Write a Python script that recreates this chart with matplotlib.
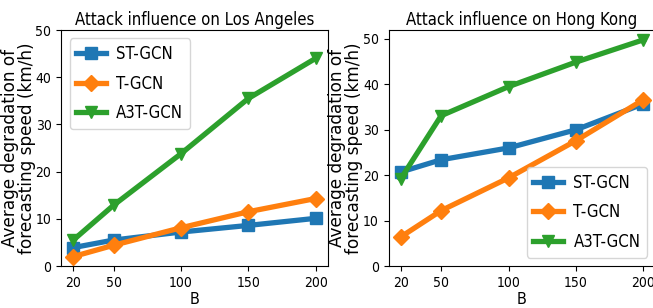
import matplotlib
matplotlib.use("Agg")
import matplotlib.pyplot as plt

B = [20, 50, 100, 150, 200]
models = ["ST-GCN", "T-GCN", "A3T-GCN"]
la_st = [3.9, 5.5, 7.2, 8.6, 10.1]
la_t = [2.0, 4.4, 8.1, 11.5, 14.3]
la_a3t = [5.5, 12.9, 23.8, 35.5, 44.0]
hk_st = [20.7, 23.4, 26.0, 30.0, 35.7]
hk_t = [6.4, 12.2, 19.4, 27.6, 36.6]
hk_a3t = [19.2, 33.1, 39.5, 44.9, 49.8]

colors = ["#1f77b4", "#ff7f0e", "#2ca02c"]
markers = ["s", "D", "v"]

plt.rcParams["font.family"] = "DejaVu Sans"
COND = dict(family="DejaVu Sans", stretch="condensed")

W, H = 653, 308
fig = plt.figure(figsize=(W / 100, H / 100), dpi=100)
ax1 = fig.add_axes([61.2 / W, 1 - 266 / H, 266.6 / W, 236 / H])
ax2 = fig.add_axes([388.6 / W, 1 - 266 / H, 266.8 / W, 236 / H])

for ax, data, title, loc in [
    (ax1, [la_st, la_t, la_a3t], "Attack influence on Los Angeles", "upper left"),
    (ax2, [hk_st, hk_t, hk_a3t], "Attack influence on Hong Kong", "lower right"),
]:
    for y, name, c, m in zip(data, models, colors, markers):
        ax.plot(B, y, color=c, marker=m, lw=3.8, ms=8, label=name)
    ax.set_xticks(B)
    ax.set_title(title, fontsize=12, pad=3.5, **COND)
    ax.set_xlabel("B", fontsize=11.5, labelpad=2, **COND)
    ax.set_ylabel("Average degradation of\nforecasting speed (km/h)", fontsize=12.2,
                  linespacing=0.92)
    ax.yaxis.set_label_coords(-0.095, 0.5)
    ax.tick_params(labelsize=10)
    for lab in ax.get_xticklabels() + ax.get_yticklabels():
        lab.set_fontstretch("condensed")
    ax.set_ylim(bottom=0)
    ax.legend(loc=loc, prop=dict(size=12, **COND), labelspacing=0.7,
              handlelength=1.8, handletextpad=0.6)
ax1.set_ylim(0, 50)

fig.savefig("out.png", dpi=100)
